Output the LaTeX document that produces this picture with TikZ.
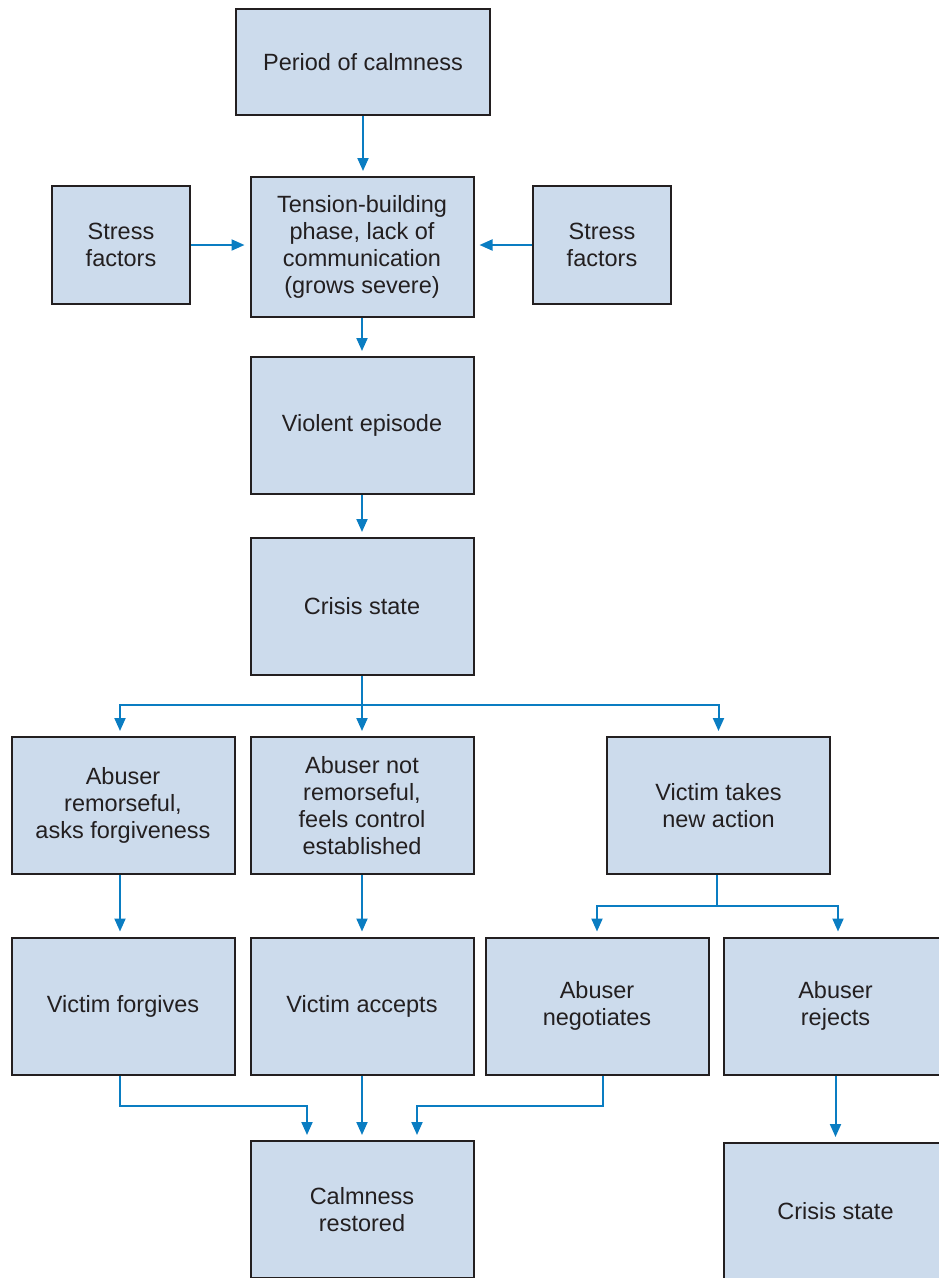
\documentclass[tikz,border=0pt]{standalone}
\usepackage{fontspec}
\setmainfont{Liberation Sans}
\usetikzlibrary{arrows.meta,calc}
\definecolor{boxfill}{HTML}{CCDBEC}
\definecolor{boxline}{HTML}{231F20}
\definecolor{arrblue}{HTML}{0A7DC2}
\definecolor{txt}{HTML}{231F20}
\begin{document}
\begin{tikzpicture}[x=1pt,y=-1pt,
  box/.style={draw=boxline,line width=2pt,fill=boxfill,rectangle,align=center,
    text=txt,inner sep=0pt,minimum width=223pt,minimum height=137pt,
    font=\fontsize{23.5}{27}\selectfont},
  arr/.style={draw=arrblue,line width=2pt,-{Triangle[length=13pt,width=11pt]},shorten >=5pt},
  ln/.style={draw=arrblue,line width=2pt}]
\useasboundingbox (0,0) rectangle (938,1278);
\node[box,minimum width=254pt,minimum height=106pt] (pc) at (363,62) {Period of calmness};
\node[box,minimum height=140pt] (ten) at (362,247) {Tension-building\\phase, lack of\\communication\\(grows severe)};
\node[box,minimum width=138pt,minimum height=118pt] (sl) at (121,245) {Stress\\factors};
\node[box,minimum width=138pt,minimum height=118pt] (sr) at (602,245) {Stress\\factors};
\node[box] (ve) at (362,425.5) {Violent episode};
\node[box] (cs) at (362,606.5) {Crisis state};
\node[box] (ar) at (123,805.5) {Abuser\\remorseful,\\asks forgiveness};
\node[box] (anr) at (362,805.5) {Abuser not\\remorseful,\\feels control\\established};
\node[box] (vt) at (718.5,805.5) {Victim takes\\new action};
\node[box] (vf) at (123,1006) {Victim forgives};
\node[box] (va) at (362,1006) {Victim accepts};
\node[box] (an) at (597,1006) {Abuser\\negotiates};
\node[box] (arj) at (835.5,1006) {Abuser\\rejects};
\node[box] (cr) at (362,1209.5) {Calmness\\restored};
\node[box] (cs2) at (835.5,1211.5) {Crisis state};
% connectors
\draw[arr] (pc.south) -- (pc.south |- ten.north);
\draw[arr] (sl.east) -- (sl.east -| ten.west);
\draw[arr] (sr.west) -- (sr.west -| ten.east);
\draw[arr] (ten.south) -- (ve.north);
\draw[arr] (ve.south) -- (cs.north);
\coordinate (b1) at (362,705);
\draw[ln] (cs.south) -- (b1);
\draw[arr] (b1) -| ([xshift=-3pt]ar.north);
\draw[arr] (b1) -- (anr.north);
\draw[arr] (b1) -| (vt.north);
\coordinate (b2) at (717,906);
\draw[ln] (vt.south -| b2) -- (b2);
\draw[arr] (b2) -| (an.north);
\draw[arr] (b2) -| ([xshift=2.5pt]arj.north);
\draw[arr] ([xshift=-3pt]ar.south) -- ([xshift=-3pt]vf.north);
\draw[arr] (anr.south) -- (va.north);
\draw[arr] (arj.south) -- (cs2.north);
\coordinate (c1) at (120,1106);
\coordinate (c2) at (603,1106);
\draw[arr] ([xshift=-3pt]vf.south) -- (c1) -| ([xshift=-55pt]cr.north);
\draw[arr] (va.south) -- (cr.north);
\draw[arr] ([xshift=6pt]an.south) -- (c2) -| ([xshift=55pt]cr.north);
\end{tikzpicture}
\end{document}
